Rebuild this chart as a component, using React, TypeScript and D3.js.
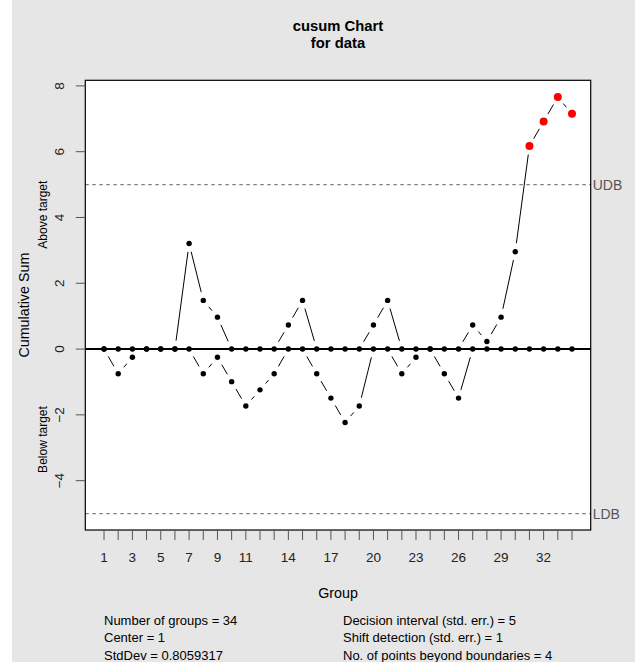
import React from "react";
import * as d3 from "d3";

// cusum statistics
const groups = d3.range(1, 35);
const upperSum = [
  0, 0, 0, 0, 0, 0, 3.21, 1.48, 0.97, 0, 0, 0, 0, 0.73, 1.48, 0, 0, 0, 0, 0.73,
  1.48, 0, 0, 0, 0, 0, 0.73, 0.23, 0.97, 2.96, 6.17, 6.92, 7.66, 7.15,
];
const lowerSum = [
  0, -0.75, -0.25, 0, 0, 0, 0, -0.75, -0.25, -0.99, -1.73, -1.24, -0.75, 0, 0,
  -0.75, -1.49, -2.23, -1.73, 0, 0, -0.75, -0.25, 0, -0.75, -1.49, 0, 0, 0, 0,
  0, 0, 0, 0,
];
const yTicks = [-4, -2, 0, 2, 4, 6, 8];
const xTickLabels = [1, 3, 5, 7, 9, 11, 14, 17, 20, 23, 26, 29, 32];
const decisionInterval = 5;
const statsLeft = ["Number of groups = 34", "Center = 1", "StdDev = 0.8059317"];
const statsRight = [
  "Decision interval (std. err.) = 5",
  "Shift detection (std. err.) = 1",
  "No. of points beyond boundaries = 4",
];

const W = 635;
const H = 662;
const plot = { left: 85.3, right: 590.7, top: 80.3, bottom: 530 };
const font = "'Liberation Sans', Arial, Helvetica, sans-serif";

const x = d3.scaleLinear().domain([1 - 1.32, 34 + 1.32]).range([plot.left, plot.right]);
const y = d3.scaleLinear().domain([-5.5, 8.17]).range([plot.bottom, plot.top]);

// R type="b": segments with a gap around each point
function gappedSegments(vals: number[], gap: number) {
  const segs: { x1: number; y1: number; x2: number; y2: number }[] = [];
  for (let i = 0; i < vals.length - 1; i++) {
    const ax = x(groups[i]), ay = y(vals[i]);
    const bx = x(groups[i + 1]), by = y(vals[i + 1]);
    const len = Math.hypot(bx - ax, by - ay);
    if (len <= 2 * gap) continue;
    const ux = (bx - ax) / len, uy = (by - ay) / len;
    segs.push({ x1: ax + ux * gap, y1: ay + uy * gap, x2: bx - ux * gap, y2: by - uy * gap });
  }
  return segs;
}

export default function App() {
  const gap = 8.5;
  const upSegs = gappedSegments(upperSum, gap);
  const loSegs = gappedSegments(lowerSum, gap);
  const midX = (plot.left + plot.right) / 2;
  const midY = (plot.top + plot.bottom) / 2;

  return (
    <div style={{ position: "absolute", left: 0, top: 0 }}>
      <svg width={W} height={H} style={{ display: "block" }} fontFamily={font}>
        <rect x={0} y={0} width={W} height={H} fill="#ffffff" />
        <rect x={12} y={0} width={W - 12} height={H} fill="#e6e6e6" />
        <rect
          x={plot.left}
          y={plot.top}
          width={plot.right - plot.left}
          height={plot.bottom - plot.top}
          fill="#ffffff"
        />

        {/* title */}
        <text x={midX} y={31} textAnchor="middle" fontSize={14.8} fontWeight="bold" fill="#000">
          cusum Chart
        </text>
        <text x={midX} y={48} textAnchor="middle" fontSize={14.8} fontWeight="bold" fill="#000">
          for data
        </text>

        {/* decision boundaries */}
        {[decisionInterval, -decisionInterval].map((v) => (
          <line
            key={v}
            x1={plot.left}
            x2={plot.right}
            y1={y(v)}
            y2={y(v)}
            stroke="#808080"
            strokeWidth={1.2}
            strokeDasharray="3.5,3.5"
          />
        ))}
        <text x={plot.right + 2} y={y(decisionInterval) + 5} fontSize={14} fill="#555">
          UDB
        </text>
        <text x={plot.right + 2} y={y(-decisionInterval) + 5} fontSize={14} fill="#555">
          LDB
        </text>

        {/* center line */}
        <line x1={plot.left} x2={plot.right} y1={y(0)} y2={y(0)} stroke="#000" strokeWidth={2} />

        {/* cusum lines */}
        {upSegs.concat(loSegs).map((s, i) => (
          <line key={i} {...s} stroke="#000" strokeWidth={1} />
        ))}
        {lowerSum.map((v, i) => (
          <circle key={"l" + i} cx={x(groups[i])} cy={y(v)} r={2.7} fill="#000" />
        ))}
        {upperSum.map((v, i) => (
          <circle
            key={"u" + i}
            cx={x(groups[i])}
            cy={y(v)}
            r={v > decisionInterval ? 4 : 2.7}
            fill={v > decisionInterval ? "#ff0000" : "#000"}
          />
        ))}

        {/* box */}
        <rect
          x={plot.left}
          y={plot.top}
          width={plot.right - plot.left}
          height={plot.bottom - plot.top}
          fill="none"
          stroke="#000"
          strokeWidth={1.2}
        />

        {/* y axis */}
        {yTicks.map((t) => (
          <g key={t}>
            <line x1={plot.left - 9.5} x2={plot.left} y1={y(t)} y2={y(t)} stroke="#555" strokeWidth={1} />
            <text
              transform={`translate(${plot.left - 21.5},${y(t)}) rotate(-90)`}
              textAnchor="middle"
              fontSize={13.5}
              fill="#222"
            >
              {t < 0 ? "\u2212" + Math.abs(t) : t}
            </text>
          </g>
        ))}
        <text
          transform={`translate(29,${midY}) rotate(-90)`}
          textAnchor="middle"
          fontSize={14.3}
          fill="#000"
        >
          Cumulative Sum
        </text>
        <text
          transform={`translate(47,${(plot.top + y(0)) / 2}) rotate(-90)`}
          textAnchor="middle"
          fontSize={12}
          fill="#000"
        >
          Above target
        </text>
        <text
          transform={`translate(47,${(plot.bottom + y(0)) / 2}) rotate(-90)`}
          textAnchor="middle"
          fontSize={12}
          fill="#000"
        >
          Below target
        </text>

        {/* x axis */}
        {groups.map((g) => (
          <line key={g} x1={x(g)} x2={x(g)} y1={plot.bottom} y2={plot.bottom + 10} stroke="#555" strokeWidth={1} />
        ))}
        {xTickLabels.map((g) => (
          <text key={g} x={x(g)} y={562} textAnchor="middle" fontSize={13.5} fill="#222">
            {g}
          </text>
        ))}
        <text x={midX} y={598} textAnchor="middle" fontSize={14.3} fill="#000">
          Group
        </text>

        {/* stats */}
        {statsLeft.map((s, i) => (
          <text key={s} x={104} y={625 + i * 17.3} fontSize={13} fill="#000">
            {s}
          </text>
        ))}
        {statsRight.map((s, i) => (
          <text key={s} x={343} y={625 + i * 17.3} fontSize={13} fill="#000">
            {s}
          </text>
        ))}
      </svg>
    </div>
  );
}
